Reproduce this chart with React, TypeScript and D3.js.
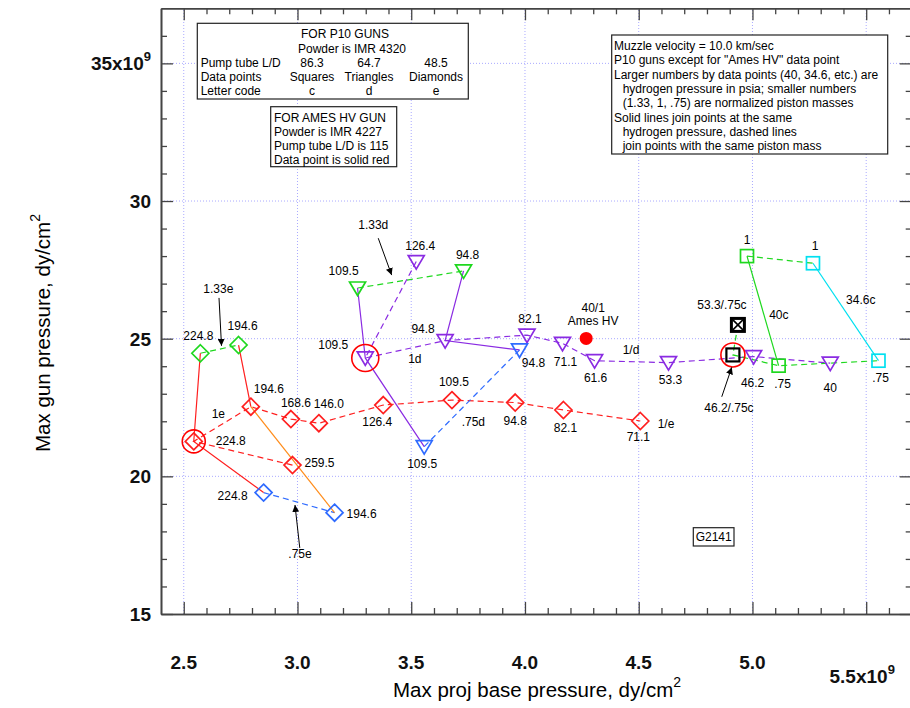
import { useEffect, useRef } from "react";
import * as d3 from "d3";

type Pt = { h2: number; x: number; y: number };

// x = max proj base pressure (1e9 dy/cm2), y = max gun pressure (1e9 dy/cm2), h2 = hydrogen pressure psia
// diamonds, letter code e (pump tube L/D 48.5)
const e133: Pt[] = [
  { h2: 224.8, x: 2.573, y: 24.47 },
  { h2: 194.6, x: 2.741, y: 24.77 },
];
const e100: Pt[] = [
  { h2: 259.5, x: 2.978, y: 20.41 },
  { h2: 224.8, x: 2.544, y: 21.27 },
  { h2: 194.6, x: 2.795, y: 22.53 },
  { h2: 168.6, x: 2.971, y: 22.08 },
  { h2: 146.0, x: 3.094, y: 21.93 },
  { h2: 126.4, x: 3.377, y: 22.59 },
  { h2: 109.5, x: 3.679, y: 22.77 },
  { h2: 94.8, x: 3.957, y: 22.68 },
  { h2: 82.1, x: 4.169, y: 22.41 },
  { h2: 71.1, x: 4.507, y: 22.01 },
];
const e075: Pt[] = [
  { h2: 224.8, x: 2.851, y: 19.41 },
  { h2: 194.6, x: 3.163, y: 18.68 },
];
// triangles, letter code d (L/D 64.7)
const d133: Pt[] = [
  { h2: 109.5, x: 3.264, y: 26.84 },
  { h2: 94.8, x: 3.73, y: 27.46 },
];
const d100: Pt[] = [
  { h2: 126.4, x: 3.522, y: 27.8 },
  { h2: 109.5, x: 3.298, y: 24.3 },
  { h2: 94.8, x: 3.649, y: 24.93 },
  { h2: 82.1, x: 4.009, y: 25.13 },
  { h2: 71.1, x: 4.165, y: 24.83 },
  { h2: 61.6, x: 4.306, y: 24.2 },
  { h2: 53.3, x: 4.631, y: 24.13 },
  { h2: 46.2, x: 5.005, y: 24.35 },
  { h2: 40, x: 5.342, y: 24.11 },
];
const d075: Pt[] = [
  { h2: 109.5, x: 3.557, y: 21.08 },
  { h2: 94.8, x: 3.976, y: 24.59 },
];
// squares, letter code c (L/D 86.3)
const c100: Pt[] = [
  { h2: 40, x: 4.976, y: 28.0 },
  { h2: 34.6, x: 5.266, y: 27.74 },
];
const c075: Pt[] = [
  { h2: 53.3, x: 4.936, y: 25.5 },
  { h2: 46.2, x: 4.914, y: 24.41 },
  { h2: 40, x: 5.115, y: 24.02 },
  { h2: 34.6, x: 5.554, y: 24.2 },
];
// Ames HV gun
const amesHV: Pt[] = [{ h2: 40, x: 4.269, y: 25.01 }];

const xMajor = [2.5, 3.0, 3.5, 4.0, 4.5, 5.0, 5.5];
const yMajor = [15, 20, 25, 30, 35];
const xMinor = d3.range(25, 57).filter((v) => v % 5 !== 0).map((v) => v / 10);
const yMinor = d3.range(16, 37).filter((v) => v % 5 !== 0);

const GREEN = "#1ed81e";
const RED = "#ff1f1f";
const BLUE = "#2f6bff";
const PURPLE = "#8a2be2";
const CYAN = "#00e0f0";
const ORANGE = "#ff8c1a";
const AXIS = "#444";
const FONT = "'Liberation Sans', Arial, Helvetica, sans-serif";

const dashed = [
  { pts: e133, color: GREEN },
  { pts: e100, color: RED },
  { pts: e075, color: BLUE },
  { pts: d133, color: GREEN },
  { pts: d100, color: PURPLE },
  { pts: d075, color: BLUE },
  { pts: c100, color: GREEN },
  { pts: c075, color: GREEN },
];
// solid lines: same hydrogen pressure
const solid = [
  { pts: [e133[0], e100[1], e075[0]], color: RED },
  { pts: [e133[1], e100[2]], color: RED },
  { pts: [e100[2], e075[1]], color: ORANGE },
  { pts: [d133[0], d100[1], d075[0]], color: PURPLE },
  { pts: [d133[1], d100[2], d075[1]], color: PURPLE },
  { pts: [c100[0], c075[2]], color: GREEN },
  { pts: [c100[1], c075[3]], color: CYAN },
];

const squareColor = (h2: number) => (h2 === 40 ? GREEN : h2 === 34.6 ? CYAN : "#000");

const pointNotes = [
  { at: e133[0], text: "224.8", dx: -2, dy: -18 },
  { at: e133[1], text: "194.6", dx: 4, dy: -19 },
  { at: e100[0], text: "259.5", dx: 27, dy: -2 },
  { at: e100[1], text: "224.8", dx: 37, dy: -1 },
  { at: e100[2], text: "194.6", dx: 18, dy: -18 },
  { at: e100[3], text: "168.6", dx: 5, dy: -16 },
  { at: e100[4], text: "146.0", dx: 10, dy: -20 },
  { at: e100[5], text: "126.4", dx: -6, dy: 17 },
  { at: e100[6], text: "109.5", dx: 2, dy: -18 },
  { at: e100[7], text: "94.8", dx: 0, dy: 18 },
  { at: e100[8], text: "82.1", dx: 2, dy: 18 },
  { at: e100[9], text: "71.1", dx: -2, dy: 16 },
  { at: e075[0], text: "224.8", dx: -31, dy: 3 },
  { at: e075[1], text: "194.6", dx: 27, dy: 1 },
  { at: d133[0], text: "109.5", dx: -14, dy: -17 },
  { at: d133[1], text: "94.8", dx: 4, dy: -16 },
  { at: d100[0], text: "126.4", dx: 4, dy: -16 },
  { at: d100[1], text: "109.5", dx: -32, dy: -13 },
  { at: d100[2], text: "94.8", dx: -22, dy: -12 },
  { at: d100[3], text: "82.1", dx: 3, dy: -16 },
  { at: d100[4], text: "71.1", dx: 3, dy: 18 },
  { at: d100[5], text: "61.6", dx: 1, dy: 17 },
  { at: d100[6], text: "53.3", dx: 2, dy: 17 },
  { at: d100[7], text: "46.2", dx: -1, dy: 26 },
  { at: d100[8], text: "40", dx: 0, dy: 24 },
  { at: d075[0], text: "109.5", dx: -2, dy: 17 },
  { at: d075[1], text: "94.8", dx: 14, dy: 13 },
  { at: c100[0], text: "1", dx: 0, dy: -16 },
  { at: c100[1], text: "1", dx: 2, dy: -18 },
  { at: c075[0], text: "53.3/.75c", dx: -16, dy: -20 },
  { at: c075[1], text: "46.2/.75c", dx: -4, dy: 53 },
  { at: c075[2], text: ".75", dx: 4, dy: 18 },
  { at: c075[3], text: ".75", dx: 2, dy: 17 },
  { at: amesHV[0], text: "40/1", dx: 7, dy: -31 },
  { at: amesHV[0], text: "Ames HV", dx: 7, dy: -17.5 },
];

// free labels in data coordinates
const freeNotes = [
  { text: "1.33e", x: 2.652, y: 26.83 },
  { text: "1e", x: 2.652, y: 22.26 },
  { text: ".75e", x: 3.011, y: 17.18 },
  { text: "1.33d", x: 3.333, y: 29.13 },
  { text: "1d", x: 3.516, y: 24.29 },
  { text: ".75d", x: 3.773, y: 21.99 },
  { text: "1/e", x: 4.62, y: 21.93 },
  { text: "1/d", x: 4.466, y: 24.61 },
  { text: "40c", x: 5.116, y: 25.88 },
  { text: "34.6c", x: 5.476, y: 26.43 },
];

const arrows = [
  { from: [2.655, 26.48], to: [2.666, 24.74] },
  { from: [3.355, 28.65], to: [3.414, 27.31] },
  { from: [3.01, 17.4], to: [2.989, 18.96] },
  { from: [4.865, 22.89], to: [4.909, 23.96] },
];

const highlighted = [
  { at: e100[1], r: 11.5 },
  { at: d100[1], r: 13.5 },
  { at: c075[1], r: 12 },
];

const p10Rows = [
  ["Pump tube L/D", "86.3", "64.7", "48.5"],
  ["Data points", "Squares", "Triangles", "Diamonds"],
  ["Letter code", "c", "d", "e"],
];
const amesLines = ["FOR AMES HV GUN", "Powder is IMR 4227", "Pump tube L/D is 115", "Data point is solid red"];
const notesLines = [
  { t: "Muzzle velocity = 10.0 km/sec", indent: false },
  { t: 'P10 guns except for "Ames HV" data point', indent: false },
  { t: "Larger numbers by data points (40, 34.6, etc.) are", indent: false },
  { t: "hydrogen pressure in psia; smaller numbers", indent: true },
  { t: "(1.33, 1, .75) are normalized piston masses", indent: true },
  { t: "Solid lines join points at the same", indent: false },
  { t: "hydrogen pressure, dashed lines", indent: true },
  { t: "join points with the same piston mass", indent: true },
];

const diamondPath = (cx: number, cy: number, r = 8.5) =>
  `M${cx},${cy - r}L${cx + r},${cy}L${cx},${cy + r}L${cx - r},${cy}Z`;
const trianglePath = (cx: number, cy: number) =>
  `M${cx - 8},${cy - 6}L${cx + 8},${cy - 6}L${cx},${cy + 7.5}Z`;

export default function App() {
  const ref = useRef<SVGSVGElement>(null);

  useEffect(() => {
    document.body.style.margin = "0";
    const svg = d3.select(ref.current);
    svg.selectAll("*").remove();

    const x = d3.scaleLinear().domain([2.4, 5.7]).range([161, 911.7]);
    const y = d3.scaleLinear().domain([15, 37]).range([614, 8.3]);
    const [x0, x1] = x.range();
    const [y0, y1] = y.range();

    const defs = svg.append("defs");
    defs.append("marker")
      .attr("id", "arrowhead")
      .attr("viewBox", "0 0 10 10")
      .attr("refX", 10)
      .attr("refY", 5)
      .attr("markerWidth", 7)
      .attr("markerHeight", 7)
      .attr("orient", "auto")
      .append("path")
      .attr("d", "M0,0L10,5L0,10Z")
      .attr("fill", "#000");

    const text = (g: any, str: string, px: number, py: number, size = 12, anchor = "middle") =>
      g.append("text")
        .attr("x", px)
        .attr("y", py + size * 0.36)
        .attr("text-anchor", anchor)
        .attr("font-family", FONT)
        .attr("font-size", size)
        .attr("fill", "#000")
        .text(str);

    // grid
    const grid = svg.append("g")
      .attr("stroke", "#aaaaff")
      .attr("stroke-width", 1)
      .attr("stroke-dasharray", "1,2");
    grid.selectAll(".gx").data(xMajor).enter().append("line")
      .attr("x1", (d) => x(d)).attr("x2", (d) => x(d))
      .attr("y1", y0).attr("y2", y1);
    grid.selectAll(".gy").data(yMajor.filter((v) => v > 15)).enter().append("line")
      .attr("y1", (d) => y(d)).attr("y2", (d) => y(d))
      .attr("x1", x0).attr("x2", x1);

    // axes, ticks pointing inward on all four sides
    const axisG = svg.append("g");
    const addAxis = (axis: any, transform: string) => {
      const g = axisG.append("g").attr("transform", transform).call(axis);
      g.selectAll("text").remove();
      g.select(".domain").attr("stroke", AXIS).attr("stroke-width", 1.6);
      g.selectAll(".tick line").attr("stroke", AXIS).attr("stroke-width", 1.3);
    };
    [
      { xv: xMajor, yv: yMajor, len: 12 },
      { xv: xMinor, yv: yMinor, len: 6 },
    ].forEach(({ xv, yv, len }) => {
      addAxis(d3.axisBottom(x).tickValues(xv).tickSize(-len).tickSizeOuter(0), `translate(0,${y0})`);
      addAxis(d3.axisTop(x).tickValues(xv).tickSize(-len).tickSizeOuter(0), `translate(0,${y1})`);
      addAxis(d3.axisLeft(y).tickValues(yv).tickSize(-len).tickSizeOuter(0), `translate(${x0},0)`);
      addAxis(d3.axisRight(y).tickValues(yv).tickSize(-len).tickSizeOuter(0), `translate(${x1},0)`);
    });

    // tick labels
    const tl = svg.append("g")
      .attr("font-family", FONT).attr("font-size", 19).attr("font-weight", "bold").attr("fill", "#111");
    xMajor.forEach((v, i) => {
      const last = i === xMajor.length - 1;
      const t = tl.append("text")
        .attr("x", x(v) - (last ? 4 : 0))
        .attr("y", last ? 683 : 669)
        .attr("text-anchor", "middle")
        .text(last ? `${d3.format(".1f")(v)}x10` : d3.format(".1f")(v));
      if (last) t.append("tspan").attr("dy", -9).attr("font-size", 13).text("9");
    });
    yMajor.forEach((v, i) => {
      const last = i === yMajor.length - 1;
      const t = tl.append("text")
        .attr("x", 151)
        .attr("y", y(v) + 7)
        .attr("text-anchor", "end")
        .text(last ? `${v}x10` : `${v}`);
      if (last) t.append("tspan").attr("dy", -9).attr("font-size", 13).text("9");
    });

    // axis titles
    const xt = svg.append("text")
      .attr("x", 537).attr("y", 697)
      .attr("text-anchor", "middle")
      .attr("font-family", FONT).attr("font-size", 20.5)
      .text("Max proj base pressure, dy/cm");
    xt.append("tspan").attr("dy", -10).attr("font-size", 14).text("2");
    const yt = svg.append("text")
      .attr("transform", "translate(50,333) rotate(-90)")
      .attr("text-anchor", "middle")
      .attr("font-family", FONT).attr("font-size", 20.5)
      .text("Max gun pressure, dy/cm");
    yt.append("tspan").attr("dy", -10).attr("font-size", 14).text("2");

    // lines
    const line = d3.line<Pt>().x((d) => x(d.x)).y((d) => y(d.y));
    const lines = svg.append("g").attr("fill", "none").attr("stroke-width", 1.2);
    dashed.forEach((s) =>
      lines.append("path").attr("d", line(s.pts)).attr("stroke", s.color).attr("stroke-dasharray", "6,4"));
    solid.forEach((s) => lines.append("path").attr("d", line(s.pts)).attr("stroke", s.color));

    // markers
    const mk = svg.append("g").attr("fill", "none").attr("stroke-width", 1.7);
    [
      { pts: e133, color: GREEN },
      { pts: e100, color: RED },
      { pts: e075, color: BLUE },
    ].forEach((s) =>
      s.pts.forEach((p) => mk.append("path").attr("d", diamondPath(x(p.x), y(p.y))).attr("stroke", s.color)));
    [
      { pts: d133, color: GREEN },
      { pts: d100, color: PURPLE },
      { pts: d075, color: BLUE },
    ].forEach((s) =>
      s.pts.forEach((p) => mk.append("path").attr("d", trianglePath(x(p.x), y(p.y))).attr("stroke", s.color)));
    [...c100, ...c075].forEach((p) => {
      const cx = x(p.x), cy = y(p.y);
      const special = p === c075[0];
      const black = squareColor(p.h2) === "#000";
      mk.append("rect")
        .attr("x", cx - 6.5).attr("y", cy - 6.5).attr("width", 13).attr("height", 13)
        .attr("fill", special ? "#fff" : "none")
        .attr("stroke", squareColor(p.h2))
        .attr("stroke-width", special ? 3 : black ? 2.2 : 1.7);
      if (special) {
        mk.append("path")
          .attr("d", `M${cx - 5},${cy - 5}L${cx + 5},${cy + 5}M${cx + 5},${cy - 5}L${cx - 5},${cy + 5}`)
          .attr("stroke", "#000").attr("stroke-width", 1.6);
      }
    });
    amesHV.forEach((p) => svg.append("circle").attr("cx", x(p.x)).attr("cy", y(p.y)).attr("r", 6.5).attr("fill", "#f00"));
    highlighted.forEach((h) =>
      svg.append("circle").attr("cx", x(h.at.x)).attr("cy", y(h.at.y)).attr("r", h.r)
        .attr("fill", "none").attr("stroke", "#f00").attr("stroke-width", 1.6));

    // labels
    const lab = svg.append("g");
    pointNotes.forEach((n) => text(lab, n.text, x(n.at.x) + n.dx, y(n.at.y) + n.dy));
    freeNotes.forEach((n) => text(lab, n.text, x(n.x), y(n.y)));
    arrows.forEach((a) =>
      svg.append("line")
        .attr("x1", x(a.from[0])).attr("y1", y(a.from[1]))
        .attr("x2", x(a.to[0])).attr("y2", y(a.to[1]))
        .attr("stroke", "#000").attr("stroke-width", 1)
        .attr("marker-end", "url(#arrowhead)"));

    // boxes
    const box = (bx: number, by: number, bw: number, bh: number) =>
      svg.append("rect").attr("x", bx).attr("y", by).attr("width", bw).attr("height", bh)
        .attr("fill", "#fff").attr("stroke", "#222").attr("stroke-width", 1.2);
    box(197.3, 23.3, 271, 75.7);
    const b1 = svg.append("g");
    text(b1, "FOR P10 GUNS", 345, 34);
    text(b1, "Powder is IMR 4320", 352, 48.3);
    const colX = [200.7, 312, 369, 436];
    p10Rows.forEach((row, r) =>
      row.forEach((cell, c) => text(b1, cell, colX[c], 62.3 + r * 14.2, 12, c === 0 ? "start" : "middle")));
    box(270.7, 106.7, 126, 60);
    const b2 = svg.append("g");
    amesLines.forEach((l, i) => text(b2, l, 274, 117.5 + i * 14.2, 12, "start"));
    box(611.7, 35, 276, 119);
    const b3 = svg.append("g");
    notesLines.forEach((l, i) => text(b3, l.t, l.indent ? 622.7 : 614, 45.7 + i * 14.3, 12, "start"));
    box(693.3, 527.7, 40.7, 18.3);
    text(svg, "G2141", 713.7, 536.7);
  }, []);

  return <svg ref={ref} width={910} height={708} style={{ display: "block", background: "#fff" }} />;
}
